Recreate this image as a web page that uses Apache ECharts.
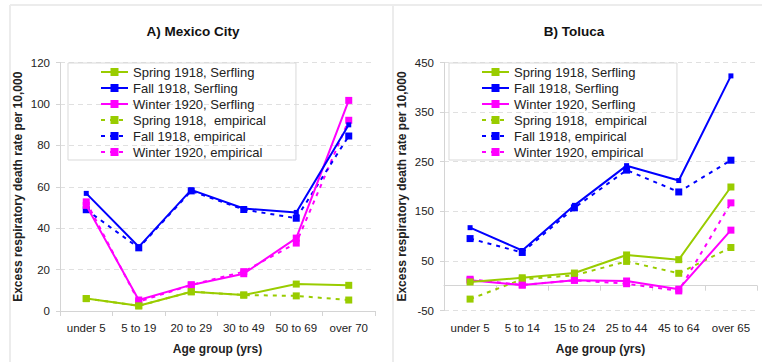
<!DOCTYPE html>
<html>
<head>
<meta charset="utf-8">
<script src="https://cdn.jsdelivr.net/npm/echarts@6/dist/echarts.min.js"></script>
<style>html,body{margin:0;padding:0;background:#fff;}#c{width:762px;height:362px;}</style>
</head>
<body>
<div id="c"></div>
<script>
// Categories
const catsA = ['under 5', '5 to 19', '20 to 29', '30 to 49', '50 to 69', 'over 70'];
const catsB = ['under 5', '5 to 14', '15 to 24', '25 to 44', '45 to 64', 'over 65'];
const seriesNames = ['Spring 1918, Serfling', 'Fall 1918, Serfling', 'Winter 1920, Serfling',
  'Spring 1918,  empirical', 'Fall 1918, empirical', 'Winter 1920, empirical'];

// A) Mexico City
const springSerflingA = [6, 2.5, 9.3, 7.7, 13, 12.4];
const fallSerflingA = [56.8, 31, 58.5, 49.5, 47.6, 89.9];
const winterSerflingA = [51, 5.3, 12.6, 18, 35.2, 101.7];
const springEmpiricalA = [6, 2.5, 9.3, 7.7, 7.3, 5.3];
const fallEmpiricalA = [48.9, 30.5, 58, 49, 44.8, 84.5];
const winterEmpiricalA = [52.7, 4.5, 12.6, 19, 32.8, 92.1];

// B) Toluca
const springSerflingB = [7.5, 16, 25.5, 62, 52.5, 199];
const fallSerflingB = [117, 71, 162, 242, 212, 423];
const winterSerflingB = [11, 1.4, 11, 9.5, -7, 112];
const springEmpiricalB = [-27, 13, 21, 49, 25, 77];
const fallEmpiricalB = [95, 67, 157, 233, 189, 253];
const winterEmpiricalB = [13, 1.4, 11, 4, -10.5, 167];

const GREEN = '#99cc00', BLUE = '#0000ff', PINK = '#ff00ff';
const colors = [GREEN, BLUE, PINK, GREEN, BLUE, PINK];
const dataA = [springSerflingA, fallSerflingA, winterSerflingA, springEmpiricalA, fallEmpiricalA, winterEmpiricalA];
const dataB = [springSerflingB, fallSerflingB, winterSerflingB, springEmpiricalB, fallEmpiricalB, winterEmpiricalB];

const FONT = 'Liberation Sans, Arial, sans-serif';

function mkSeries(data, idx) {
  return data.map((d, i) => ({
    name: seriesNames[i],
    type: 'line',
    xAxisIndex: idx, yAxisIndex: idx,
    data: d,
    symbol: 'rect',
    symbolSize: i === 1 ? 5 : 7,
    color: colors[i],
    itemStyle: { color: colors[i] },
    lineStyle: { color: colors[i], width: 2, type: i >= 3 ? [4, 5] : 'solid' },
    animation: false,
    z: 10 - i
  }));
}

const axisGrey = '#d4d4d4';
function xAx(cats, gi) {
  return {
    type: 'category', gridIndex: gi, data: cats, boundaryGap: true,
    axisLine: { lineStyle: { color: axisGrey, width: 1 } },
    axisTick: { show: true, length: 5, lineStyle: { color: axisGrey } },
    axisLabel: { color: '#222', fontSize: 11.5, margin: 11, fontFamily: FONT, interval: 0 },
    name: 'Age group (yrs)', nameLocation: 'middle', nameGap: 32,
    nameTextStyle: { fontWeight: 'bold', fontSize: 12, color: '#222', fontFamily: FONT }
  };
}
function yAx(min, max, interval, gi) {
  return {
    type: 'value', gridIndex: gi, min: min, max: max, interval: interval,
    axisLine: { show: true, lineStyle: { color: axisGrey, width: 1 } },
    axisTick: { show: true, length: 4, lineStyle: { color: axisGrey } },
    splitLine: { show: true, lineStyle: { color: '#e0e0e0', type: [5, 4] } },
    axisLabel: { color: '#222', fontSize: 11.5, margin: 10, fontFamily: FONT },
    name: 'Excess respiratory death rate per 10,000', nameLocation: 'middle', nameGap: 36,
    nameTextStyle: { fontWeight: 'bold', fontSize: 12, color: '#222', fontFamily: FONT }
  };
}
function legend(left) {
  return {
    data: seriesNames, orient: 'vertical', left: left, top: 63,
    itemWidth: 27, itemHeight: 10, itemGap: 2,
    padding: [2, 30, 1, 32],
    borderColor: '#d9d9d9', borderWidth: 1,
    selectedMode: false,
    textStyle: { fontSize: 13, lineHeight: 14, color: '#222', fontFamily: FONT }
  };
}

const chart = echarts.init(document.getElementById('c'), null, { renderer: 'svg' });
chart.setOption({
  backgroundColor: '#fff',
  animation: false,
  textStyle: { fontFamily: FONT },
  grid: [
    { left: 60, top: 62.5, width: 315, height: 248.5 },
    { left: 444, top: 62.5, width: 313, height: 248 }
  ],
  xAxis: [xAx(catsA, 0), xAx(catsB, 1)],
  yAxis: [yAx(0, 120, 20, 0), yAx(-50, 450, 100, 1)],
  legend: [legend(68), legend(449)],
  graphic: [
    { type: 'line', shape: { x1: 10, y1: 5, x2: 762, y2: 5 }, style: { stroke: '#ececec', lineWidth: 2 } },
    { type: 'line', shape: { x1: 10, y1: 5, x2: 10, y2: 362 }, style: { stroke: '#ececec', lineWidth: 2 } },
    { type: 'line', shape: { x1: 393, y1: 5, x2: 393, y2: 362 }, style: { stroke: '#ececec', lineWidth: 2 } },
    { type: 'text', x: 193, y: 31, style: { text: 'A) Mexico City', fontSize: 13.5, fontWeight: 'bold', fill: '#111', align: 'center', verticalAlign: 'middle', fontFamily: FONT } },
    { type: 'text', x: 574, y: 31, style: { text: 'B) Toluca', fontSize: 13.5, fontWeight: 'bold', fill: '#111', align: 'center', verticalAlign: 'middle', fontFamily: FONT } }
  ],
  series: mkSeries(dataA, 0).concat(mkSeries(dataB, 1))
});
</script>
</body>
</html>
